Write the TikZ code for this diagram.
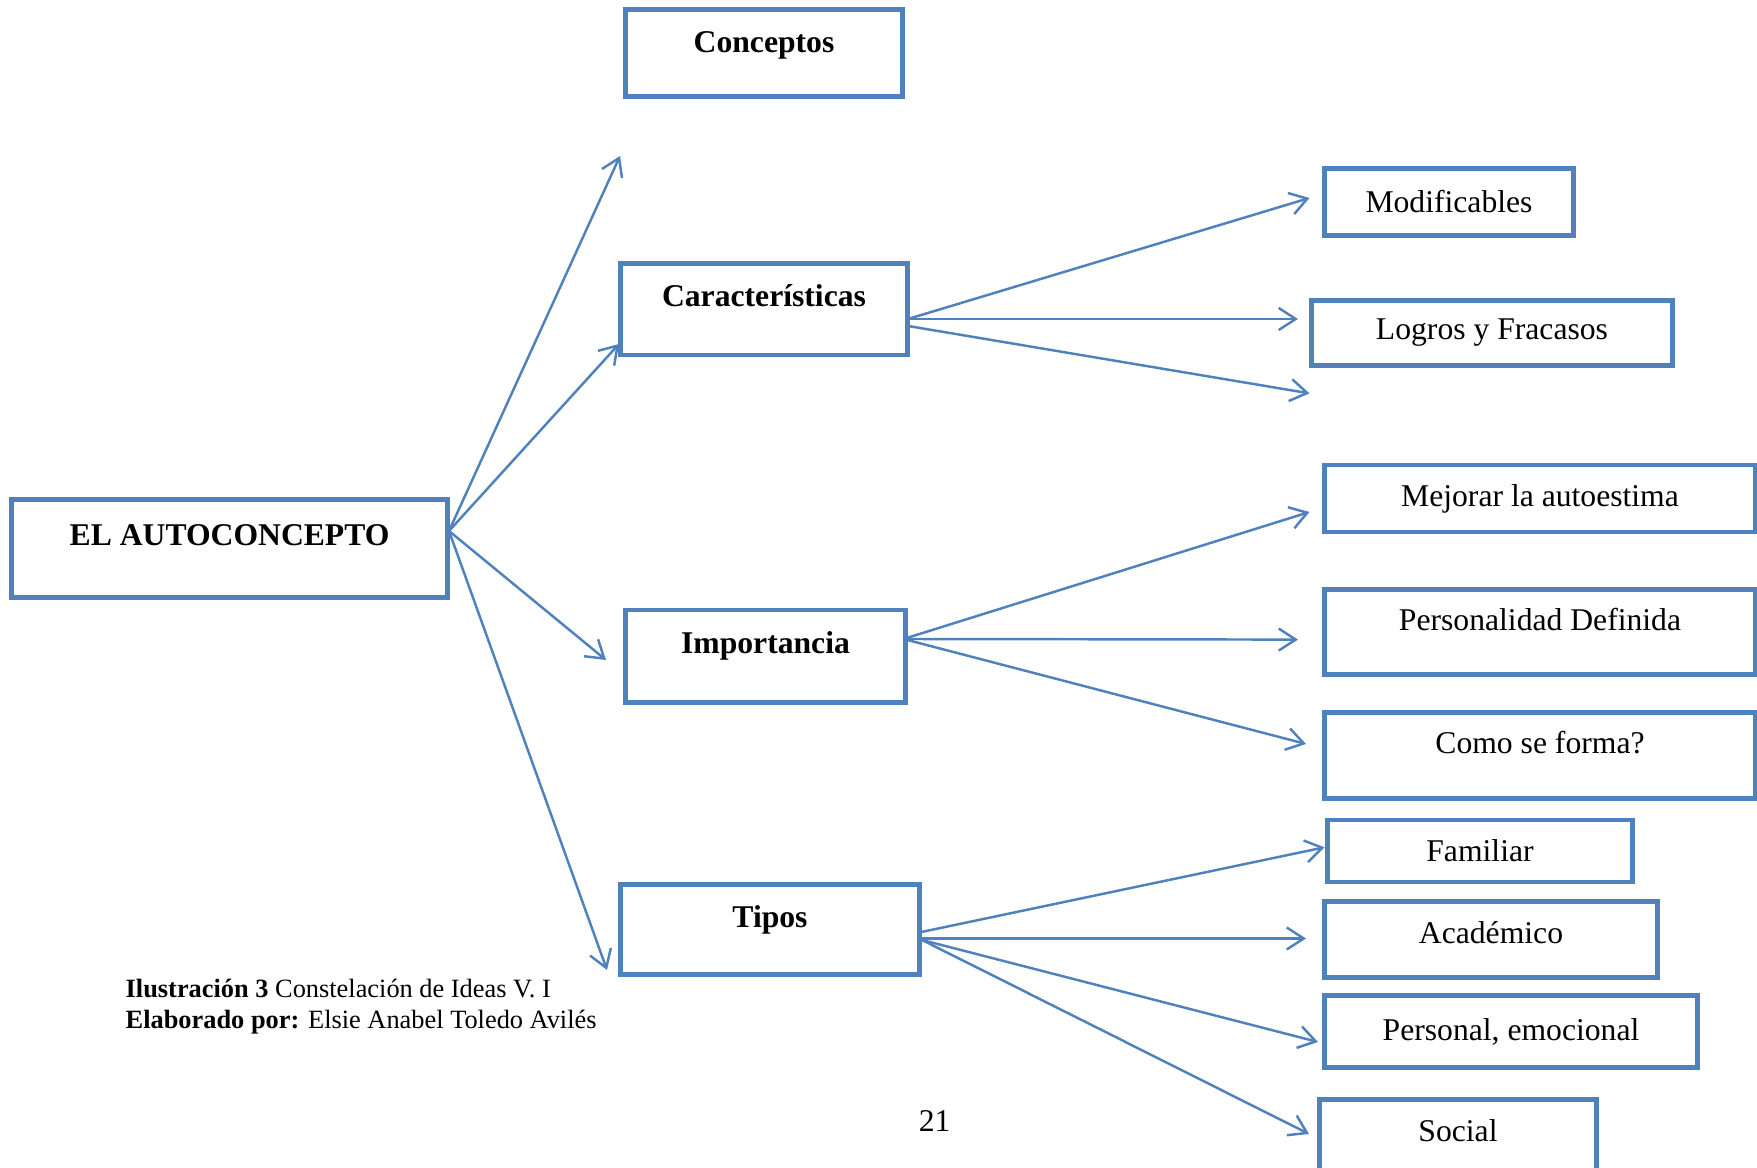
\documentclass[tikz,border=0pt]{standalone}
\usepackage{fontspec}
\setmainfont{Liberation Serif}
\usepackage{tikz}
\usetikzlibrary{arrows.meta}
\definecolor{boxblue}{HTML}{4F81BD}
\tikzstyle{mainbox} = [rectangle, draw=boxblue, line width=1.4pt, inner ysep=0pt, text height=0.43cm, font=\fontsize{9}{11}\selectfont\bfseries]
\tikzstyle{topbox} = [rectangle, draw=boxblue, line width=1.4pt, inner ysep=0pt, text height=0.41cm, font=\fontsize{9}{11}\selectfont]
\tikzstyle{subbox} = [rectangle, draw=boxblue, line width=1.4pt, font=\fontsize{9}{11}\selectfont]
\tikzstyle{arrow} = [draw=boxblue, line width=0.7pt, -{Straight Barb[length=1.7mm,width=2.2mm]}]

\begin{document}
\begin{tikzpicture}[x=0.01cm, y=-0.01cm]
\useasboundingbox (0,0) rectangle (1757,1168);

\node (auto) [mainbox, minimum width=4.36cm, text height=0.46cm, text depth=0.52cm] at (229.6,548.8) {EL AUTOCONCEPTO};
\node (concep) [mainbox, minimum width=2.76cm, text depth=0.44cm] at (764,53) {Conceptos};
\node (caract) [mainbox, minimum width=2.87cm, text depth=0.48cm] at (764,309.5) {Características};
\node (import) [mainbox, minimum width=2.80cm, text depth=0.495cm] at (765.5,656.3) {Importancia};
\node (tipos) [mainbox, minimum width=2.98cm, text depth=0.47cm] at (770,929.5) {Tipos};

\node (modif) [subbox, minimum width=2.49cm, minimum height=0.676cm] at (1449,202) {Modificables};
\node (logros) [subbox, minimum width=3.61cm, minimum height=0.65cm] at (1492,333) {Logros y Fracasos};
\node (mejorar) [subbox, minimum width=4.30cm, minimum height=0.67cm] at (1540,498.5) {Mejorar la autoestima};
\node (personalidad) [topbox, minimum width=4.30cm, text depth=0.44cm] at (1540,632) {Personalidad Definida};
\node (como) [topbox, minimum width=4.30cm, text depth=0.45cm] at (1540,755.8) {Como se forma?};
\node (familiar) [subbox, minimum width=3.05cm, minimum height=0.62cm] at (1480,851) {Familiar};
\node (academico) [topbox, minimum width=3.33cm, text height=0.42cm, text depth=0.34cm] at (1491,939.6) {Académico};
\node (personal) [subbox, minimum width=3.73cm, minimum height=0.715cm] at (1511,1031.7) {Personal, emocional};
\node (social) [topbox, minimum width=2.76cm, text height=0.42cm, text depth=0.5cm] at (1458,1145.3) {Social};

\node (caption) [anchor=north west, inner sep=0pt, align=left, font=\fontsize{7.5}{9}\selectfont] at (125,978) {\textbf{Ilustración 3} Constelación de Ideas V. I\\\textbf{Elaborado por:} Elsie Anabel Toledo Avilés};
\node (pagenum) [font=\fontsize{9}{11}\selectfont] at (934.6,1121.3) {21};

\coordinate (auto-out) at (449,531);
\coordinate (concep-in) at (620,156);
\coordinate (caract-in) at (619,344);
\coordinate (import-in) at (606,660);
\coordinate (tipos-in) at (607,970);

\coordinate (caract-out) at (908,319);
\coordinate (caract-out2) at (908,326);
\coordinate (modif-in) at (1309.5,198);
\coordinate (logros-in) at (1298,319);
\coordinate (caract-free) at (1309.5,393.4);

\coordinate (import-out) at (903.5,639);
\coordinate (mejorar-in) at (1309.5,512);
\coordinate (personalidad-in) at (1298,639.6);
\coordinate (como-in) at (1306,744);

\coordinate (tipos-out) at (919,932.5);
\coordinate (tipos-out2) at (919,938.5);
\coordinate (tipos-out3) at (922,940);
\coordinate (familiar-in) at (1324.6,847.3);
\coordinate (academico-in) at (1306,938.5);
\coordinate (personal-in) at (1318,1042);
\coordinate (social-in) at (1309,1134);

\draw [arrow] (auto-out) -- (concep-in);
\draw [arrow] (auto-out) -- (caract-in);
\draw [arrow] (auto-out) -- (import-in);
\draw [arrow] (auto-out) -- (tipos-in);

\draw [arrow] (caract-out) -- (modif-in);
\draw [arrow] (caract-out) -- (logros-in);
\draw [arrow] (caract-out2) -- (caract-free);

\draw [arrow] (import-out) -- (mejorar-in);
\draw [arrow] (import-out) -- (personalidad-in);
\draw [arrow] (import-out) -- (como-in);

\draw [arrow] (tipos-out) -- (familiar-in);
\draw [arrow] (tipos-out2) -- (academico-in);
\draw [arrow] (tipos-out3) -- (personal-in);
\draw [arrow] (tipos-out3) -- (social-in);

\end{tikzpicture}
\end{document}
